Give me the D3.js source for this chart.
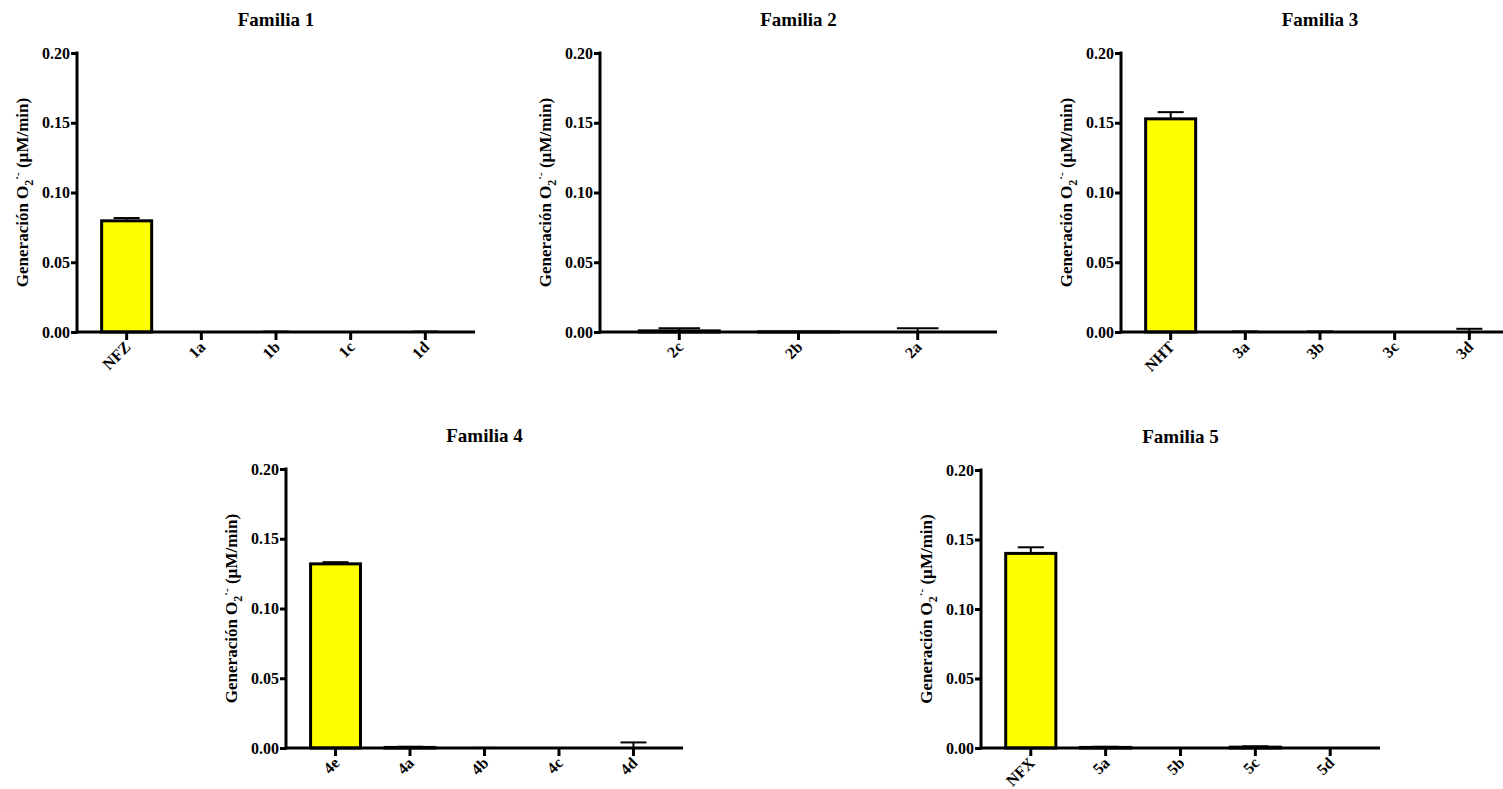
<!DOCTYPE html>
<html>
<head>
<meta charset="utf-8">
<script src="https://cdn.jsdelivr.net/npm/d3@7"></script>
<style>
  html, body { margin: 0; padding: 0; background: #fff; }
  svg text { font-family: "Liberation Serif", "DejaVu Serif", serif; font-weight: bold; fill: #000; }
</style>
</head>
<body>
<svg id="chart" width="1503" height="789"></svg>
<script>
// ---- data ----
const titles = ["Familia 1", "Familia 2", "Familia 3", "Familia 4", "Familia 5"];
const cats1 = ["NFZ", "1a", "1b", "1c", "1d"];
const vals1 = [0.0797, 0, 0, 0, 0];
const errs1 = [0.0020, 0, 0.0003, 0, 0.0003];
const cats2 = ["2c", "2b", "2a"];
const vals2 = [0.0008, 0.0001, 0];
const errs2 = [0.0019, 0, 0.0027];
const cats3 = ["NHT", "3a", "3b", "3c", "3d"];
const vals3 = [0.1528, 0, 0, 0, 0];
const errs3 = [0.0048, 0.0004, 0.0004, 0, 0.0023];
const cats4 = ["4e", "4a", "4b", "4c", "4d"];
const vals4 = [0.1320, 0.0004, 0, 0, 0];
const errs4 = [0.0012, 0.0005, 0.0001, 0, 0.0040];
const cats5 = ["NFX", "5a", "5b", "5c", "5d"];
const vals5 = [0.1400, 0.0004, 0, 0.0006, 0];
const errs5 = [0.0044, 0.0005, 0, 0.0006, 0];
const yTicks = [0, 0.05, 0.10, 0.15, 0.20];
const yMax = 0.20;

const dataSets = [
  [cats1, vals1, errs1], [cats2, vals2, errs2], [cats3, vals3, errs3],
  [cats4, vals4, errs4], [cats5, vals5, errs5]
];

// ---- layout ----
const layout = [
  { x0: 77,   x1: 475,  y0: 53,  y1: 332 },
  { x0: 600,  x1: 997,  y0: 53,  y1: 332 },
  { x0: 1121, x1: 1519, y0: 53,  y1: 332 },
  { x0: 286,  x1: 683,  y0: 469, y1: 748 },
  { x0: 981,  x1: 1380, y0: 470, y1: 748 }
];

const svg = d3.select("#chart");

layout.forEach((L, i) => {
  const [cats, vals, errs] = dataSets[i];
  const x = d3.scaleBand().domain(cats).range([L.x0, L.x1])
    .paddingInner(0.33).paddingOuter(0.33);
  const y = d3.scaleLinear().domain([0, yMax]).range([L.y1, L.y0]);
  const g = svg.append("g");

  // bars
  const bw = x.bandwidth();
  const capW = bw * 0.52;
  cats.forEach((c, k) => {
    const cx = x(c) + bw / 2;
    // error bar
    if (errs[k] > 0) {
      g.append("line")
        .attr("x1", cx).attr("x2", cx)
        .attr("y1", y(vals[k])).attr("y2", y(vals[k] + errs[k]))
        .attr("stroke", "#000").attr("stroke-width", 2);
      g.append("line")
        .attr("x1", cx - capW / 2).attr("x2", cx + capW / 2)
        .attr("y1", y(vals[k] + errs[k])).attr("y2", y(vals[k] + errs[k]))
        .attr("stroke", "#000").attr("stroke-width", 2);
    }
    g.append("rect")
      .attr("x", x(c)).attr("width", bw)
      .attr("y", y(vals[k])).attr("height", y(0) - y(vals[k]))
      .attr("fill", "#ffff00").attr("stroke", "#000").attr("stroke-width", 3);
  });

  // y axis
  const ya = g.append("g").attr("transform", `translate(${L.x0},0)`)
    .call(d3.axisLeft(y).tickValues(yTicks).tickFormat(d3.format(".2f")).tickSize(6).tickPadding(1));
  ya.select(".domain").remove();
  ya.selectAll(".tick line").attr("stroke", "#000").attr("stroke-width", 3);
  ya.selectAll(".tick text").attr("font-size", 16).style("font-family", "Liberation Serif").style("font-weight", "bold");

  // x axis
  const xa = g.append("g").attr("transform", `translate(0,${L.y1})`)
    .call(d3.axisBottom(x).tickSize(8).tickFormat(""));
  xa.select(".domain").remove();
  xa.selectAll(".tick line").attr("stroke", "#000").attr("stroke-width", 3);

  // axis lines
  g.append("line").attr("x1", L.x0).attr("x2", L.x0).attr("y1", L.y0 - 1.5).attr("y2", L.y1 + 1.5)
    .attr("stroke", "#000").attr("stroke-width", 3);
  g.append("line").attr("x1", L.x0).attr("x2", L.x1).attr("y1", L.y1).attr("y2", L.y1)
    .attr("stroke", "#000").attr("stroke-width", 3);

  // x labels rotated
  cats.forEach(c => {
    const cx = x(c) + bw / 2;
    g.append("text")
      .attr("transform", `translate(${cx + 5},${L.y1 + 16}) rotate(-45)`)
      .attr("text-anchor", "end")
      .attr("font-size", 16)
      .text(c);
  });

  // title
  g.append("text").attr("x", (L.x0 + L.x1) / 2).attr("y", L.y0 - 27)
    .attr("text-anchor", "middle").attr("font-size", 19).text(titles[i]);

  // y label
  const yl = g.append("text")
    .attr("transform", `translate(${L.x0 - 49},${(L.y0 + L.y1) / 2}) rotate(-90)`)
    .attr("text-anchor", "middle").attr("font-size", 17);
  yl.append("tspan").text("Generación O");
  yl.append("tspan").attr("font-size", 12).attr("dy", 5).text("2");
  yl.append("tspan").attr("font-size", 11).attr("dy", -12).text("·-");
  yl.append("tspan").attr("dy", 7).text(" (µM/min)");
});
</script>
</body>
</html>
